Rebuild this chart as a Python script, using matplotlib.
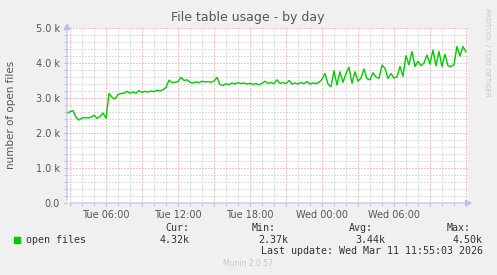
import matplotlib
matplotlib.use('Agg')
import matplotlib.pyplot as plt
from matplotlib.ticker import MultipleLocator, FuncFormatter

# hours since Tue 00:00, one sample every 15 min starting 02:45
start_hour = 2.75
step_hour = 0.25
open_files = [
    2.56, 2.61, 2.64, 2.45, 2.37, 2.43, 2.44, 2.43, 2.45, 2.51,
    2.42, 2.47, 2.57, 2.42, 3.13, 3.02, 2.97, 3.10, 3.13, 3.14,
    3.19, 3.14, 3.17, 3.14, 3.21, 3.16, 3.19, 3.17, 3.20, 3.18,
    3.22, 3.20, 3.24, 3.30, 3.51, 3.44, 3.45, 3.47, 3.59, 3.50,
    3.52, 3.45, 3.43, 3.46, 3.44, 3.48, 3.46, 3.47, 3.45, 3.48,
    3.59, 3.38, 3.36, 3.41, 3.38, 3.43, 3.40, 3.44, 3.41, 3.43,
    3.40, 3.42, 3.39, 3.41, 3.38, 3.42, 3.48, 3.42, 3.44, 3.41,
    3.52, 3.42, 3.44, 3.41, 3.50, 3.40, 3.43, 3.40, 3.44, 3.41,
    3.47, 3.40, 3.43, 3.41, 3.45, 3.53, 3.70, 3.40, 3.32, 3.78,
    3.37, 3.75, 3.45, 3.70, 3.88, 3.42, 3.75, 3.48, 3.57, 3.83,
    3.55, 3.52, 3.72, 3.60, 3.56, 3.94, 3.85, 3.56, 3.70, 3.57,
    3.60, 3.90, 3.62, 4.21, 3.95, 4.33, 3.90, 4.05, 3.92, 4.00,
    4.23, 3.97, 4.37, 3.92, 4.33, 3.90, 4.25, 3.92, 3.90, 3.95,
    4.47, 4.20, 4.47, 4.32,
]
hours = [start_hour + step_hour * i for i in range(len(open_files))]
values = [v * 1000 for v in open_files]

tick_hours = [6, 12, 18, 24, 30]
tick_labels = ['Tue 06:00', 'Tue 12:00', 'Tue 18:00', 'Wed 00:00', 'Wed 06:00']
stats_names = ['Cur:', 'Min:', 'Avg:', 'Max:']
stats_values = ['4.32k', '2.37k', '3.44k', '4.50k']

W, H = 497, 275
fig = plt.figure(figsize=(W / 100, H / 100), dpi=100, facecolor='#F0F0F0')
L, R, T, B = 67, 468, 28, 203
ax = fig.add_axes([L / W, 1 - B / H, (R - L) / W, (B - T) / H])
ax.set_facecolor('white')

ax.plot(hours, values, color='#00CC00', lw=1.0, zorder=3)

ax.set_xlim(2.75, 36.17)
ax.set_ylim(0, 5000)

ax.yaxis.set_major_locator(MultipleLocator(1000))
ax.yaxis.set_minor_locator(MultipleLocator(200))
ax.xaxis.set_major_locator(MultipleLocator(3))
ax.xaxis.set_minor_locator(MultipleLocator(1))

def xfmt(v, pos):
    h = int(round(v))
    if h in tick_hours:
        return tick_labels[tick_hours.index(h)]
    return ''

def yfmt(v, pos):
    if v == 0:
        return '0.0'
    return '%.1f k' % (v / 1000)

ax.xaxis.set_major_formatter(FuncFormatter(xfmt))
ax.yaxis.set_major_formatter(FuncFormatter(yfmt))

ax.grid(which='major', color='#E88888', ls=(0, (1, 2)), lw=0.72, zorder=1)
ax.grid(which='minor', color='#BDBDBD', ls=(0, (1, 2)), lw=0.72, zorder=0)
ax.tick_params(which='both', length=2, color='#BBBBBB', labelcolor='#555555',
               labelsize=7, pad=3)
for s in ax.spines.values():
    s.set_visible(False)

# rrdtool style axis arrows
arrow_col = '#B8BEF2'
ax.annotate('', xy=(L / W, 1 - 20 / H), xytext=(L / W, 1 - B / H),
            xycoords='figure fraction',
            arrowprops=dict(arrowstyle='-|>,head_length=0.4,head_width=0.2',
                            color=arrow_col, lw=0.8))
ax.annotate('', xy=(475 / W, 1 - B / H), xytext=(L / W, 1 - B / H),
            xycoords='figure fraction',
            arrowprops=dict(arrowstyle='-|>,head_length=0.4,head_width=0.2',
                            color=arrow_col, lw=0.8))

fig.text(248 / W, 1 - 18 / H, 'File table usage - by day', ha='center',
         va='center', fontsize=9, color='#555555')
fig.text(11 / W, 1 - 115 / H, 'number of open files', rotation=90,
         ha='center', va='center', fontsize=7.5, color='#555555')
fig.text(487 / W, 1 - 8 / H, 'RRDTOOL / TOBI OETIKER', rotation=270,
         ha='center', va='top', fontsize=5, color='#C8C8C8')

mono = 'DejaVu Sans Mono'
fig.patches.append(plt.Rectangle((14 / W, 1 - 243 / H), 6 / W, 6 / H,
                                 transform=fig.transFigure, color='#00CC00'))
fig.text(26 / W, 1 - 240 / H, 'open files', family=mono, fontsize=7.2,
         color='#333333', va='center')
name_x = [165, 252, 349, 447]
val_right = [190, 288, 385, 483]
for nx, vr, n, v in zip(name_x, val_right, stats_names, stats_values):
    fig.text(nx / W, 1 - 228 / H, n, family=mono, fontsize=7.2,
             color='#333333', va='center')
    fig.text(vr / W, 1 - 240 / H, v, family=mono, fontsize=7.2,
             color='#333333', va='center', ha='right')
fig.text(483 / W, 1 - 251 / H, 'Last update: Wed Mar 11 11:55:03 2026',
         family=mono, fontsize=7.2, color='#333333', va='center', ha='right')
fig.text(248 / W, 1 - 264 / H, 'Munin 2.0.57', fontsize=5.5,
         color='#C8C8C8', va='center', ha='center')

fig.savefig('out.png', dpi=100, facecolor=fig.get_facecolor())
